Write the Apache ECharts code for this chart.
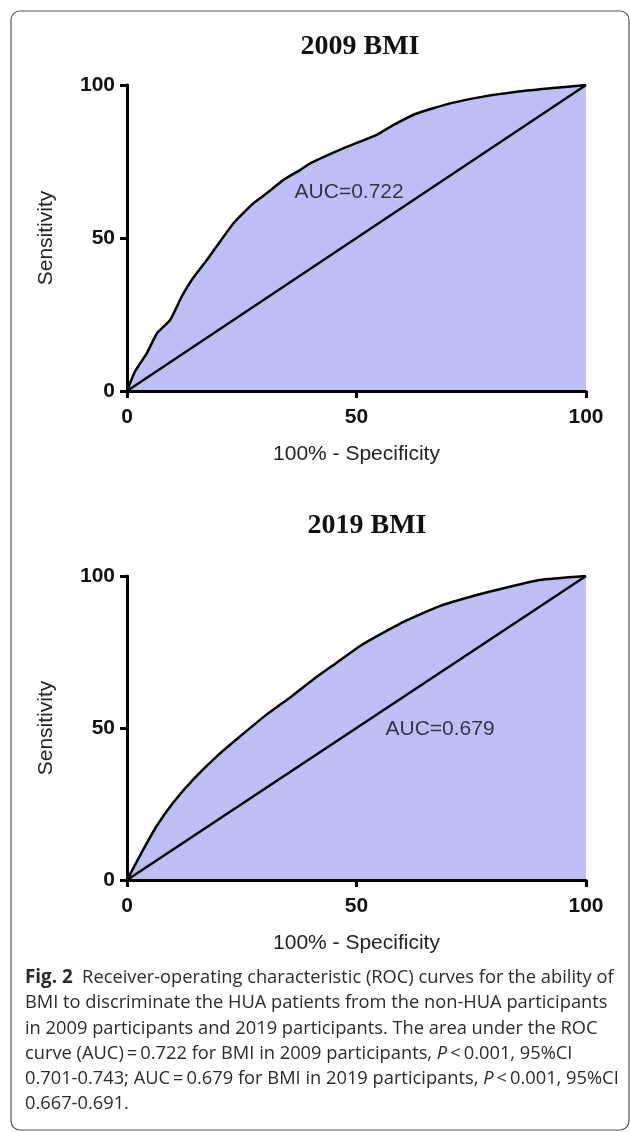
<!DOCTYPE html>
<html>
<head>
<meta charset="utf-8">
<script src="https://cdn.jsdelivr.net/npm/echarts@6/dist/echarts.min.js"></script>
<style>
html,body{margin:0;padding:0;background:#fff;}
#c{width:630px;height:1132px;}
</style>
</head>
<body>
<div id="c"></div>
<script>
// ---- data ----
var titles = ['2009 BMI', '2019 BMI'];
var aucLabels = ['AUC=0.722', 'AUC=0.679'];
var xTicks = [0, 50, 100];
var yTicks = [0, 50, 100];
var roc2009X = [0, 1.7, 4.3, 6.5, 9.4, 11.9, 14.1, 17.4, 19.5, 23.2, 27.5, 30.4, 34.1, 37.7, 39.9, 47.1, 54.4, 58, 63.1, 70.4, 77.6, 84.9, 92.2, 100];
var roc2009Y = [0, 6.3, 12.3, 18.8, 23.2, 30.8, 36.3, 42.8, 47.2, 54.8, 61.3, 64.6, 69, 72.2, 74.4, 79.3, 83.7, 86.9, 90.7, 94, 96.2, 97.8, 98.9, 100];
var roc2019X = [0, 3.5, 6.4, 10, 14.4, 19.5, 24.6, 30.4, 35.4, 40.5, 45.6, 50.7, 53.6, 60.9, 68.1, 75.4, 82.7, 89.9, 100];
var roc2019Y = [0, 9.9, 17.6, 25.3, 33, 40.6, 47.2, 54.4, 59.9, 65.9, 71.4, 76.9, 79.5, 85.4, 90.1, 93.4, 96.2, 98.7, 100];
var refX = [0, 100];
var refY = [0, 100];
var xName = '100% - Specificity';
var yName = 'Sensitivity';
var captionLines = [
  '{b|Fig. 2}  Receiver-operating characteristic (ROC) curves for the ability of',
  'BMI to discriminate the HUA patients from the non-HUA participants',
  'in 2009 participants and 2019 participants. The area under the ROC',
  'curve (AUC)\u2009=\u20090.722 for BMI in 2009 participants, {i|P}\u2009<\u20090.001, 95%CI',
  '0.701-0.743; AUC\u2009=\u20090.679 for BMI in 2019 participants, {i|P}\u2009<\u20090.001, 95%CI',
  '0.667-0.691.'
];

function pairs(xs, ys) { return xs.map(function (x, i) { return [x, ys[i]]; }); }

var chart = echarts.init(document.getElementById('c'), null, {renderer: 'canvas'});

var tickFont = {fontFamily: 'Liberation Sans', fontWeight: 'bold', fontSize: 21, color: '#111'};
function xAx(gi) {
  return {
    gridIndex: gi, type: 'value', min: 0, max: 100, interval: 50, z: 10,
    name: xName, nameLocation: 'middle', nameGap: 53,
    nameTextStyle: {fontFamily: 'Liberation Sans', fontSize: 21, color: '#222'},
    axisLine: {lineStyle: {color: '#000', width: 3}},
    axisTick: {length: 7, lineStyle: {color: '#000', width: 3}},
    axisLabel: Object.assign({margin: 16}, tickFont),
    splitLine: {show: false}
  };
}
function yAx(gi) {
  return {
    gridIndex: gi, type: 'value', min: 0, max: 100, interval: 50, z: 10,
    name: yName, nameLocation: 'middle', nameGap: 70, nameRotate: 90,
    nameTextStyle: {fontFamily: 'Liberation Sans', fontSize: 21, color: '#222'},
    axisLine: {lineStyle: {color: '#000', width: 3}},
    axisTick: {length: 7, lineStyle: {color: '#000', width: 3}},
    axisLabel: Object.assign({margin: 12}, tickFont),
    splitLine: {show: false}
  };
}
var fill = '#BFBFF8';
function curve(gi, xs, ys) {
  return {
    type: 'line', xAxisIndex: gi, yAxisIndex: gi, data: pairs(xs, ys),
    showSymbol: false, symbol: 'none', smooth: 0.15,
    lineStyle: {color: '#000', width: 2.5},
    areaStyle: {color: fill, opacity: 1},
    z: 2, silent: true
  };
}
function diag(gi) {
  return {
    type: 'line', xAxisIndex: gi, yAxisIndex: gi, data: pairs(refX, refY),
    showSymbol: false, symbol: 'none', lineStyle: {color: '#000', width: 2.5}, z: 3, silent: true
  };
}
function auc(gi, x, y) {
  return {
    type: 'scatter', xAxisIndex: gi, yAxisIndex: gi, symbolSize: 0, z: 5, silent: true,
    data: [{value: [x, y], name: aucLabels[gi]}],
    label: {show: true, position: 'inside', formatter: '{b}', fontFamily: 'Liberation Sans', fontSize: 21, color: '#111'}
  };
}

var graphics = [
  {type: 'rect', shape: {x: 11, y: 11, width: 618, height: 1119, r: 9}, style: {fill: 'none', stroke: '#555', lineWidth: 1.2}, z: 0},
  {type: 'text', x: 360, y: 47, style: {text: titles[0], fontFamily: 'Liberation Serif', fontWeight: 'bold', fontSize: 28, fill: '#111', textAlign: 'center', textVerticalAlign: 'middle'}},
  {type: 'text', x: 367, y: 526, style: {text: titles[1], fontFamily: 'Liberation Serif', fontWeight: 'bold', fontSize: 28, fill: '#111', textAlign: 'center', textVerticalAlign: 'middle'}}
];
var capFont = 'Open Sans';
var capSize = 18.3;
captionLines.forEach(function (t, i) {
  graphics.push({
    type: 'text', x: 25, y: 978 + i * 25.2,
    style: {
      text: t, fontFamily: capFont, fontSize: capSize, fill: '#2a2a2a',
      textAlign: 'left', textVerticalAlign: 'middle',
      rich: {
        b: {fontFamily: capFont, fontSize: capSize + 0.5, fontWeight: 'bold', fill: '#2a2a2a', color: '#2a2a2a'},
        i: {fontFamily: capFont, fontSize: capSize, fontStyle: 'italic', fill: '#2a2a2a', color: '#2a2a2a'}
      }
    }
  });
});

chart.setOption({
  animation: false,
  backgroundColor: '#fff',
  grid: [
    {left: 127, top: 85, width: 459, height: 306},
    {left: 127, top: 576, width: 459, height: 304}
  ],
  xAxis: [xAx(0), xAx(1)],
  yAxis: [yAx(0), yAx(1)],
  series: [
    curve(0, roc2009X, roc2009Y), diag(0), auc(0, 48.4, 65),
    curve(1, roc2019X, roc2019Y), diag(1), auc(1, 68.2, 49.5)
  ],
  graphic: graphics
});
</script>
</body>
</html>
